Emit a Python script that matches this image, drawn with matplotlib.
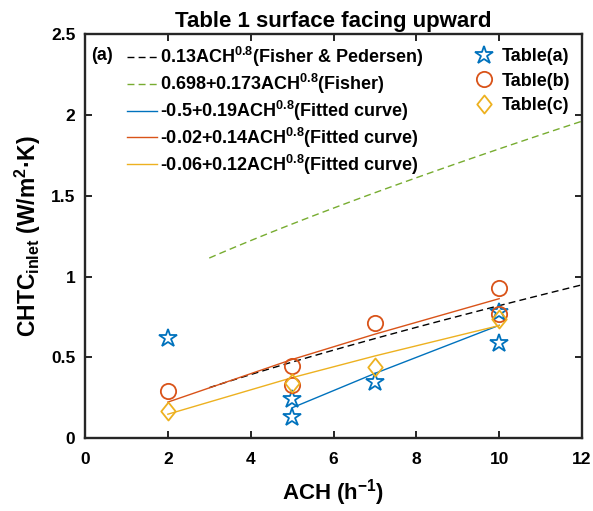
import numpy as np
import matplotlib
matplotlib.use("Agg")
import matplotlib.pyplot as plt
from matplotlib.path import Path

plt.rcParams['font.family'] = ['Liberation Sans', 'DejaVu Sans']
plt.rcParams['font.weight'] = 'bold'
plt.rcParams['mathtext.fontset'] = 'custom'
plt.rcParams['mathtext.rm'] = 'Liberation Sans:bold'
plt.rcParams['mathtext.bf'] = 'Liberation Sans:bold'
plt.rcParams['mathtext.it'] = 'Liberation Sans:bold'
plt.rcParams['mathtext.default'] = 'bf'

# ---- data ----
ach_a = [2, 5, 5, 7, 10, 10]
val_a = [0.62, 0.24, 0.13, 0.35, 0.59, 0.78]
ach_b = [2, 5, 5, 7, 10, 10]
val_b = [0.29, 0.45, 0.33, 0.71, 0.93, 0.77]
ach_c = [2, 5, 7, 10]
val_c = [0.17, 0.34, 0.44, 0.74]

# correlation coefficients: value = a + b * ACH^0.8
corr_names = ["Fisher & Pedersen", "Fisher", "Fit a", "Fit b", "Fit c"]
corr_a = [0.0, 0.698, -0.5, -0.02, -0.06]
corr_b = [0.13, 0.173, 0.19, 0.14, 0.12]
corr_x = [[3, 12], [3, 12], [5, 7, 10], [2, 5, 7, 10], [2, 5, 7, 10]]
corr_labels = [
    r"0.13ACH$^{0.8}$(Fisher & Pedersen)",
    r"0.698+0.173ACH$^{0.8}$(Fisher)",
    r"-0.5+0.19ACH$^{0.8}$(Fitted curve)",
    r"-0.02+0.14ACH$^{0.8}$(Fitted curve)",
    r"-0.06+0.12ACH$^{0.8}$(Fitted curve)",
]
corr_colors = ["black", "#77AC30", "#0072BD", "#D95319", "#EDB120"]
corr_styles = [(0, (5, 3)), (0, (5, 3)), "-", "-", "-"]

fig = plt.figure(figsize=(5.93, 5.11), dpi=100)
ax = fig.add_axes([85 / 593, (511 - 438.3) / 511, 497 / 593, 404.3 / 511])

line_handles = []
for i in range(len(corr_names)):
    xs = corr_x[i]
    if len(xs) == 2:
        xs = np.linspace(xs[0], xs[1], 50)
    xs = np.asarray(xs, dtype=float)
    ys = corr_a[i] + corr_b[i] * xs ** 0.8
    h, = ax.plot(xs, ys, color=corr_colors[i], linestyle=corr_styles[i], lw=1.0)
    line_handles.append(h)

diamond = Path([(0, 1), (0.8, 0), (0, -1), (-0.8, 0), (0, 1)],
               [Path.MOVETO, Path.LINETO, Path.LINETO, Path.LINETO, Path.CLOSEPOLY])

ha, = ax.plot(ach_a, val_a, linestyle='none', marker='*', ms=13.5, mfc='none',
              mec='#0072BD', mew=1.3)
hb, = ax.plot(ach_b, val_b, linestyle='none', marker='o', ms=11, mfc='none',
              mec='#D95319', mew=1.3)
hc, = ax.plot(ach_c, val_c, linestyle='none', marker=diamond, ms=13, mfc='none',
              mec='#EDB120', mew=1.3)

ax.set_xlim(0, 12)
ax.set_ylim(0, 2.5)
ax.set_xticks([0, 2, 4, 6, 8, 10, 12])
ax.set_yticks([0, 0.5, 1, 1.5, 2, 2.5])
ax.set_yticklabels(['0', '0.5', '1', '1.5', '2', '2.5'])
ax.tick_params(direction='in', length=5, width=1.2, labelsize=12.5,
               top=True, right=True)
ax.tick_params(axis='x', pad=10)
ax.tick_params(axis='y', pad=7)
for s in ax.spines.values():
    s.set_linewidth(1.7)
    s.set_color('#262626')

ax.set_xlabel(r"ACH (h$^{-1}$)", fontsize=16, fontweight='bold', labelpad=7)
ax.set_ylabel(r"CHTC$_{\mathrm{inlet}}$ (W/m$^{2}$·K)", fontsize=16.5,
              fontweight='bold', labelpad=6)
ax.set_title("Table 1 surface facing upward", fontsize=16, fontweight='bold', pad=5)

leg1 = ax.legend(line_handles, corr_labels, loc='upper left',
                 bbox_to_anchor=(0.07, 0.99), frameon=False, fontsize=13,
                 handlelength=1.66, handletextpad=0.17, labelspacing=0.15,
                 borderaxespad=0.0)
ax.add_artist(leg1)
ax.legend([ha, hb, hc], ["Table(a)", "Table(b)", "Table(c)"], loc='upper right',
          bbox_to_anchor=(0.99, 0.983), frameon=False, fontsize=13,
          handletextpad=0.44, labelspacing=0.42, borderaxespad=0.0,
          handlelength=1.0)

ax.text(0.012, 0.948, "(a)", transform=ax.transAxes, fontsize=13,
        fontweight='bold', va='center', ha='left')

fig.savefig("out.png", dpi=100)
